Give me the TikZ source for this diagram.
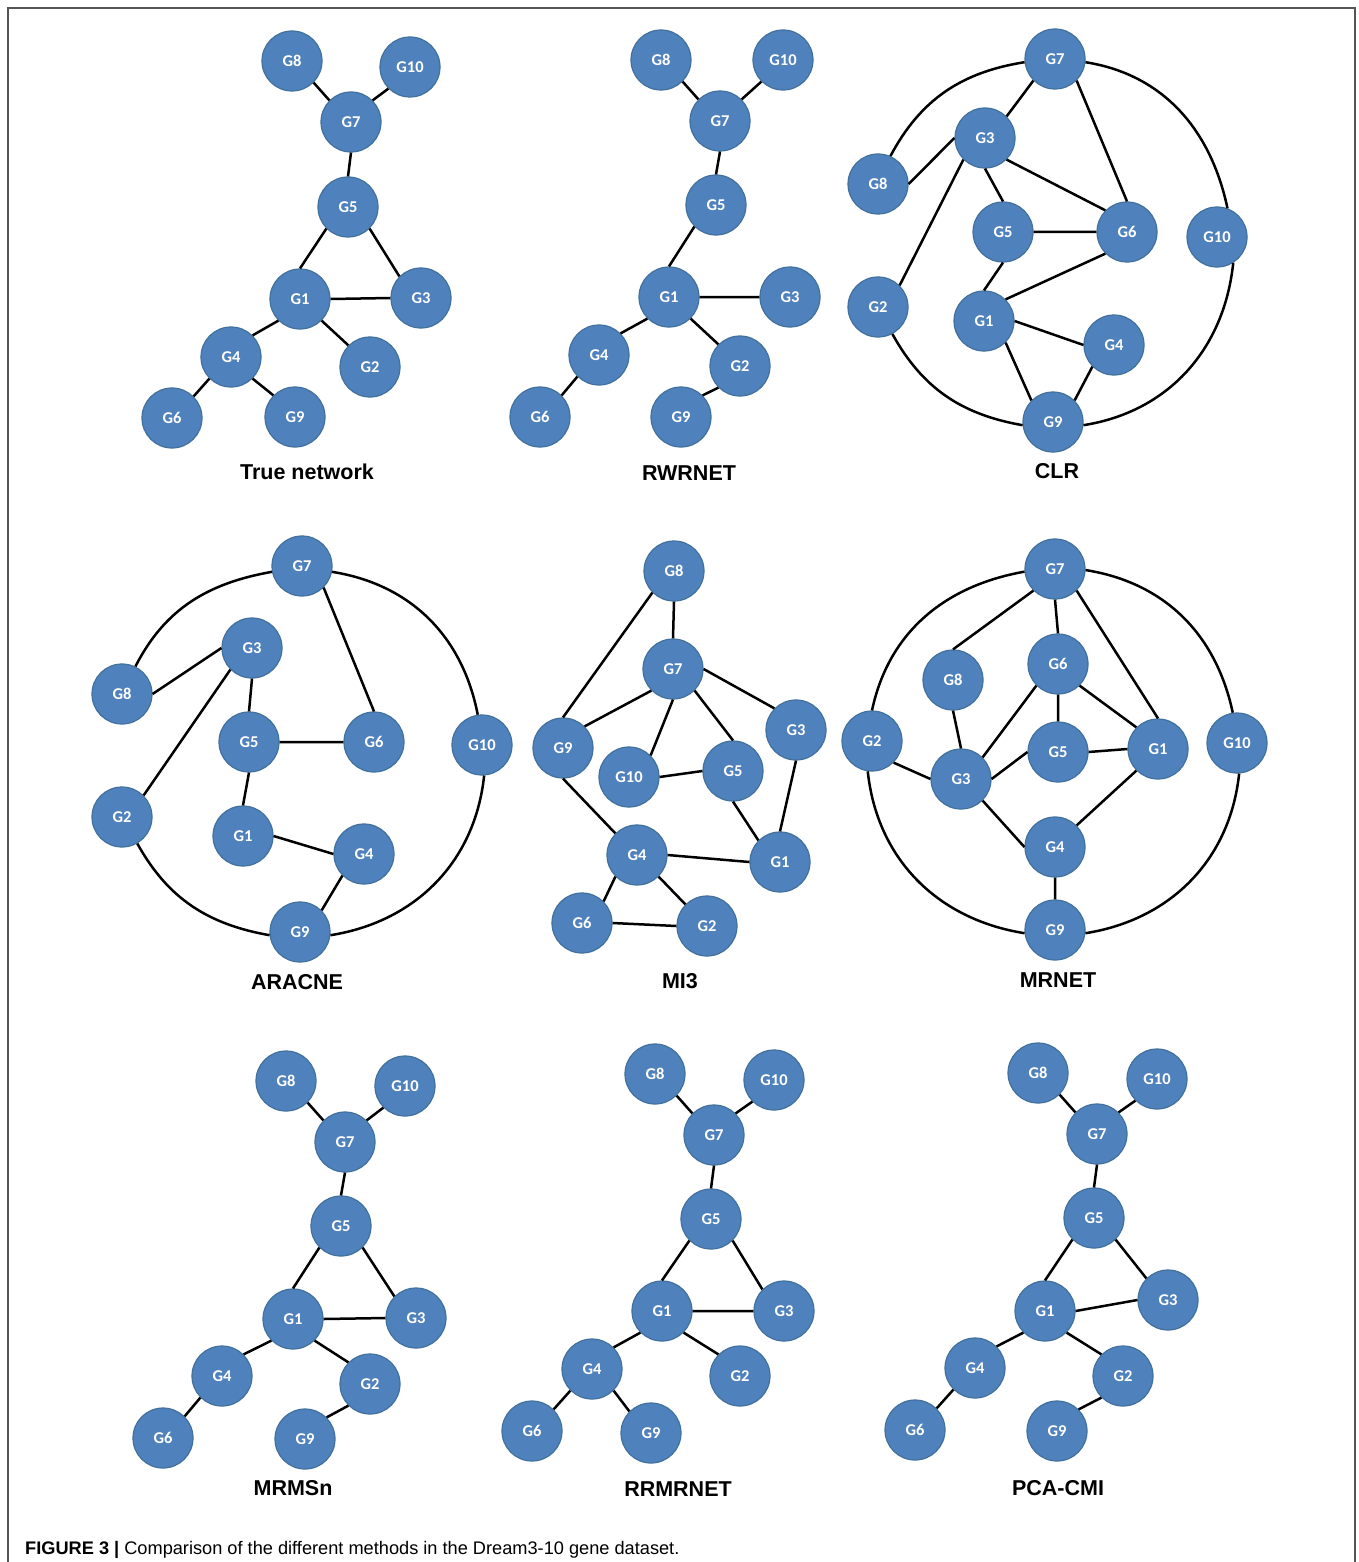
\documentclass[tikz,border=0pt]{standalone}
\usepackage{fontspec}
\setmainfont{Liberation Sans}
\newfontfamily\carlito{Carlito}
\definecolor{nodeblue}{HTML}{4F81BD}
\definecolor{nodeedge}{HTML}{41719C}
\definecolor{framegray}{HTML}{555555}
\tikzset{
  gn/.style={circle, fill=nodeblue, draw=nodeedge, line width=1.2pt, minimum size=60pt, inner sep=0pt, text=white, font=\carlito\bfseries\fontsize{16.5}{17}\selectfont},
  edge/.style={draw=black, line width=2.5pt},
  ttl/.style={font=\bfseries\fontsize{21.5}{24}\selectfont, text=black, inner sep=0pt}
}
\begin{document}
\begin{tikzpicture}[x=1pt,y=-1pt]
\useasboundingbox (0,0) rectangle (1358,1562);
\fill[white] (0,0) rectangle (1358,1562);
\draw[framegray, line width=1.5pt] (8,1562) -- (8,8) -- (1355,8) -- (1355,1562);

% ---------- True network ----------
\node[gn] (t8) at (292,61) {G8};
\node[gn] (t10) at (410,67) {G10};
\node[gn] (t7) at (351,122) {G7};
\node[gn] (t5) at (348,207) {G5};
\node[gn] (t1) at (300,299) {G1};
\node[gn] (t3) at (421,298) {G3};
\node[gn] (t4) at (231,357) {G4};
\node[gn] (t2) at (370,367) {G2};
\node[gn] (t6) at (172,418) {G6};
\node[gn] (t9) at (295,417) {G9};
\draw[edge] (t8.south east)--(t7.north west) (t10.south west)--(t7.north east) (t7.south)--(t5.north)
  (t5.south west)--(t1.north) (t5.south east)--(t3.north west) (t1.east)--(t3.west)
  (t1.south west)--(t4.north east) (t1.south east)--(t2.north west) (t4.south west)--(t6.north east) (t4.south east)--(t9.north west);
\node[ttl] (lt) at (307,472) {True network};

% ---------- RWRNET ----------
\node[gn] (r8) at (661,60) {G8};
\node[gn] (r10) at (783,60) {G10};
\node[gn] (r7) at (720,121) {G7};
\node[gn] (r5) at (716,205) {G5};
\node[gn] (r1) at (669,297) {G1};
\node[gn] (r3) at (790,297) {G3};
\node[gn] (r4) at (599,355) {G4};
\node[gn] (r2) at (740,366) {G2};
\node[gn] (r6) at (540,417) {G6};
\node[gn] (r9) at (681,417) {G9};
\draw[edge] (r8.south east)--(r7.north west) (r10.south west)--(r7.north east) (r7.south)--(r5.north)
  (r5.south west)--(r1.north) (r1.east)--(r3.west) (r1.south west)--(r4.north east)
  (r1.south east)--(r2.north west) (r4.south west)--(r6.north east) (r2.south west)--(r9.north east);
\node[ttl] (lr) at (689,473) {RWRNET};

% ---------- CLR ----------
\node[gn] (c7) at (1055,59) {G7};
\node[gn] (c3) at (985,138) {G3};
\node[gn] (c8) at (878,184) {G8};
\node[gn] (c5) at (1003,232) {G5};
\node[gn] (c6) at (1127,232) {G6};
\node[gn] (c10) at (1217,237) {G10};
\node[gn] (c2) at (878,307) {G2};
\node[gn] (c1) at (984,321) {G1};
\node[gn] (c4) at (1114,345) {G4};
\node[gn] (c9) at (1053,422) {G9};
\draw[edge] (c7.south west)--(c3.north east) (c7.south east)--(c6.north) (c3.west)--(c8.east)
  (c3.south)--(c5.north) (c3.south east)--(c6.north west) (c3.south west)--(c2.north east)
  (c5.east)--(c6.west) (c5.south)--(c1.north) (c6.south west)--(c1.north east)
  (c1.east)--(c4.west) (c1.south east)--(c9.north west) (c4.south west)--(c9.north east);
\draw[edge] (c7.186) to[out=189,in=62] (c8.66);
\draw[edge] (c2.298) to[out=299,in=170] (c9.186);
\draw[edge] (c9.354) to[out=9,in=264] (c10.302);
\draw[edge] (c10.70) to[out=102,in=351] (c7.354);
\node[ttl] (lc) at (1057,471) {CLR};

% ---------- ARACNE ----------
\node[gn] (a7) at (302,566) {G7};
\node[gn] (a3) at (252,648) {G3};
\node[gn] (a8) at (122,694) {G8};
\node[gn] (a5) at (249,742) {G5};
\node[gn] (a6) at (374,742) {G6};
\node[gn] (a10) at (482,745) {G10};
\node[gn] (a2) at (122,817) {G2};
\node[gn] (a1) at (243,836) {G1};
\node[gn] (a4) at (364,854) {G4};
\node[gn] (a9) at (300,932) {G9};
\draw[edge] (a7.south east)--(a6.north) (a3.west)--(a8.east) (a3.south)--(a5.north)
  (a3.south west)--(a2.north east) (a5.east)--(a6.west) (a5.south)--(a1.north)
  (a1.east)--(a4.west) (a4.south west)--(a9.north east);
\draw[edge] (a7.191) to[out=190,in=63] (a8.64);
\draw[edge] (a2.300) to[out=299,in=170] (a9.186);
\draw[edge] (a9.354) to[out=9,in=264] (a10.274);
\draw[edge] (a10.98) to[out=101,in=351] (a7.349);
\node[ttl] (la) at (297,982) {ARACNE};

% ---------- MI3 ----------
\node[gn] (m8) at (674,571) {G8};
\node[gn] (m7) at (673,669) {G7};
\node[gn] (m9) at (563,748) {G9};
\node[gn] (m10) at (629,777) {G10};
\node[gn] (m5) at (733,771) {G5};
\node[gn] (m3) at (796,730) {G3};
\node[gn] (m4) at (637,855) {G4};
\node[gn] (m1) at (780,862) {G1};
\node[gn] (m6) at (582,923) {G6};
\node[gn] (m2) at (707,926) {G2};
\draw[edge] (m8.south)--(m7.north) (m8.south west)--(m9.north) (m7.south west)--(m9.north east)
  (m7.south)--(m10.north east) (m7.south east)--(m5.north) (m7.east)--(m3.north west)
  (m10.east)--(m5.west) (m5.south)--(m1.north west) (m3.south)--(m1.north)
  (m9.south)--(m4.north west) (m4.east)--(m1.west) (m4.south west)--(m6.north east)
  (m4.south east)--(m2.north west) (m6.east)--(m2.west);
\node[ttl] (lm) at (680,981) {MI3};

% ---------- MRNET ----------
\node[gn] (n7) at (1055,569) {G7};
\node[gn] (n6) at (1058,664) {G6};
\node[gn] (n8) at (953,680) {G8};
\node[gn] (n2) at (872,741) {G2};
\node[gn] (n5) at (1058,752) {G5};
\node[gn] (n1) at (1158,749) {G1};
\node[gn] (n10) at (1237,743) {G10};
\node[gn] (n3) at (961,779) {G3};
\node[gn] (n4) at (1055,847) {G4};
\node[gn] (n9) at (1055,930) {G9};
\draw[edge] (n7.south west)--(n8.north) (n7.south)--(n6.north) (n7.south east)--(n1.north)
  (n6.south)--(n5.north) (n6.south east)--(n1.north west) (n6.south west)--(n3.north east)
  (n8.south)--(n3.north) (n2.south east)--(n3.west) (n3.east)--(n5.west)
  (n3.south east)--(n4.west) (n5.east)--(n1.west) (n1.south west)--(n4.north east) (n4.south)--(n9.north);
\draw[edge] (n7.185) to[out=190,in=78] (n2.90);
\draw[edge] (n2.262) to[out=276,in=171] (n9.186);
\draw[edge] (n9.354) to[out=9,in=264] (n10.274);
\draw[edge] (n10.98) to[out=102,in=351] (n7.358);
\node[ttl] (ln) at (1058,980) {MRNET};

% ---------- MRMSn ----------
\node[gn] (s8) at (286,1081) {G8};
\node[gn] (s10) at (405,1086) {G10};
\node[gn] (s7) at (345,1142) {G7};
\node[gn] (s5) at (341,1226) {G5};
\node[gn] (s1) at (293,1319) {G1};
\node[gn] (s3) at (416,1318) {G3};
\node[gn] (s4) at (222,1376) {G4};
\node[gn] (s2) at (370,1384) {G2};
\node[gn] (s6) at (163,1438) {G6};
\node[gn] (s9) at (305,1439) {G9};
\draw[edge] (s8.south east)--(s7.north west) (s10.south west)--(s7.north east) (s7.south)--(s5.north)
  (s5.south west)--(s1.north) (s5.south east)--(s3.north west) (s1.east)--(s3.west)
  (s1.south west)--(s4.north east) (s1.south east)--(s2.north west) (s4.south west)--(s6.north east) (s2.south west)--(s9.north east);
\node[ttl] (ls) at (293,1488) {MRMSn};

% ---------- RRMRNET ----------
\node[gn] (q8) at (655,1074) {G8};
\node[gn] (q10) at (774,1080) {G10};
\node[gn] (q7) at (714,1135) {G7};
\node[gn] (q5) at (711,1219) {G5};
\node[gn] (q1) at (662,1311) {G1};
\node[gn] (q3) at (784,1311) {G3};
\node[gn] (q4) at (592,1369) {G4};
\node[gn] (q2) at (740,1376) {G2};
\node[gn] (q6) at (532,1431) {G6};
\node[gn] (q9) at (651,1433) {G9};
\draw[edge] (q8.south east)--(q7.north west) (q10.south west)--(q7.north east) (q7.south)--(q5.north)
  (q5.south west)--(q1.north) (q5.south east)--(q3.north west) (q1.east)--(q3.west)
  (q1.south west)--(q4.north east) (q1.south east)--(q2.north west) (q4.south west)--(q6.north east) (q4.south east)--(q9.north west);
\node[ttl] (lq) at (678,1489) {RRMRNET};

% ---------- PCA-CMI ----------
\node[gn] (p8) at (1038,1073) {G8};
\node[gn] (p10) at (1157,1079) {G10};
\node[gn] (p7) at (1097,1134) {G7};
\node[gn] (p5) at (1094,1218) {G5};
\node[gn] (p1) at (1045,1311) {G1};
\node[gn] (p3) at (1168,1300) {G3};
\node[gn] (p4) at (975,1368) {G4};
\node[gn] (p2) at (1123,1376) {G2};
\node[gn] (p6) at (915,1430) {G6};
\node[gn] (p9) at (1057,1431) {G9};
\draw[edge] (p8.south east)--(p7.north west) (p10.south west)--(p7.north east) (p7.south)--(p5.north)
  (p5.south west)--(p1.north) (p5.south east)--(p3.north west) (p1.east)--(p3.west)
  (p1.south west)--(p4.north east) (p1.south east)--(p2.north west) (p4.south west)--(p6.north east) (p2.south west)--(p9.north east);
\node[ttl] (lp) at (1058,1488) {PCA-CMI};

% ---------- caption ----------
\node[anchor=base west, inner sep=0pt, font=\fontsize{18.2}{21}\selectfont] (cap) at (25,1554) {\textbf{FIGURE 3 |} Comparison of the different methods in the Dream3-10 gene dataset.};
\end{tikzpicture}
\end{document}
